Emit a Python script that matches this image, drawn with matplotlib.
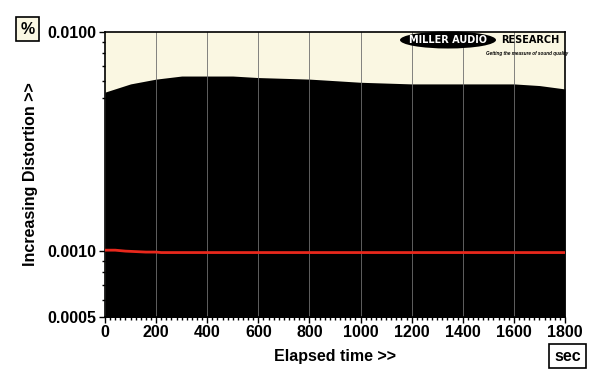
import matplotlib
matplotlib.use("Agg")
import matplotlib.pyplot as plt
from matplotlib.patches import Ellipse
from matplotlib.ticker import FixedLocator, NullFormatter, MultipleLocator

plt.rcParams["font.family"] = ["Liberation Sans", "DejaVu Sans"]

# Data
time_s = [0, 100, 200, 300, 400, 500, 600, 700, 800, 900, 1000, 1100, 1200, 1300, 1400, 1500, 1600, 1700, 1800]
upper_dist = [0.00532, 0.0058, 0.0061, 0.0063, 0.0063, 0.0063, 0.0062, 0.00615, 0.0061, 0.006, 0.0059, 0.00585, 0.0058, 0.0058, 0.0058, 0.0058, 0.0058, 0.00570, 0.0055]
red_time = [0, 40, 80, 120, 160, 200, 220, 240, 400, 800, 1200, 1600, 1800]
red_dist = [0.00101, 0.00101, 0.001, 0.000995, 0.00099, 0.00099, 0.000985, 0.000985, 0.000985, 0.000985, 0.000985, 0.000985, 0.000985]
y_major = [0.0005, 0.001, 0.01]
y_labels = ["0.0005", "0.0010", "0.0100"]
x_major = [0, 200, 400, 600, 800, 1000, 1200, 1400, 1600, 1800]

cream = "#FAF7E2"
fig = plt.figure(figsize=(6, 3.82), dpi=100)
ax = fig.add_axes([0.175, 0.170, 0.7667, 0.746])
ax.set_facecolor(cream)
ax.set_yscale("log")
ax.set_xlim(0, 1800)
ax.set_ylim(0.0005, 0.01)

ax.fill_between(time_s, 0.0004, upper_dist, color="black", lw=0, zorder=1)
for x in x_major[1:-1]:
    ax.axvline(x, color="#6e6e6e", lw=0.6, zorder=2)
ax.plot(red_time, red_dist, color="#e8281c", lw=2.0, zorder=3)

ax.yaxis.set_major_locator(FixedLocator(y_major))
ax.set_yticklabels(y_labels)
ax.yaxis.set_minor_locator(FixedLocator([0.0006, 0.0007, 0.0008, 0.0009, 0.005, 0.006, 0.007, 0.008, 0.009]))
ax.yaxis.set_minor_formatter(NullFormatter())
ax.xaxis.set_major_locator(FixedLocator(x_major))
ax.xaxis.set_minor_locator(MultipleLocator(20))

for lab in ax.get_xticklabels() + ax.get_yticklabels():
    lab.set_fontweight("bold")
    lab.set_fontsize(11.5)
ax.tick_params(axis="both", which="major", length=4, width=1, color="black", pad=2)
ax.tick_params(axis="both", which="minor", length=2, width=1)
for s in ax.spines.values():
    s.set_linewidth(1.2)

ax.set_xlabel("Elapsed time >>", fontsize=11.5, fontweight="bold", labelpad=6)
ax.set_ylabel("Increasing Distortion >>", fontsize=11.5, fontweight="bold", labelpad=7)

fig.text(0.046, 0.924, "%", fontsize=11.5, fontweight="bold", ha="center", va="center",
         bbox=dict(boxstyle="square,pad=0.3", facecolor=cream, edgecolor="black", lw=1.2))
fig.text(0.946, 0.068, "sec", fontsize=11.5, fontweight="bold", ha="center", va="center",
         bbox=dict(boxstyle="square,pad=0.3", facecolor="white", edgecolor="black", lw=1.2))

# Logo
e = Ellipse((448 / 600, 1 - 40 / 382), 96 / 600, 17 / 382, transform=fig.transFigure,
            facecolor="black", edgecolor="none", zorder=5)
fig.patches.append(e)
fig.text(448 / 600, 1 - 40 / 382, "MILLER AUDIO", fontsize=7, fontweight="bold", color="white",
         ha="center", va="center", zorder=6, family="DejaVu Sans")
fig.text(530 / 600, 1 - 40 / 382, "RESEARCH", fontsize=7, fontweight="bold", color="black",
         ha="center", va="center", zorder=6, family="DejaVu Sans")
fig.text(527 / 600, 1 - 54 / 382, "Getting the measure of sound quality", fontsize=3.3, fontweight="bold",
         color="black", ha="center", va="center", style="italic", zorder=6)

fig.savefig("out.png", dpi=100)
